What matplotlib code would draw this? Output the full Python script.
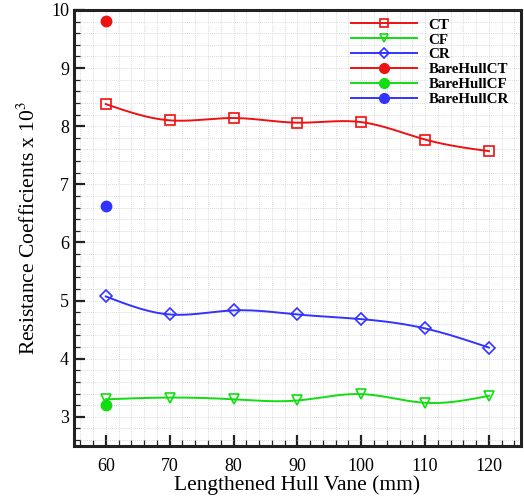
import numpy as np
import matplotlib
matplotlib.use("Agg")
import matplotlib.pyplot as plt
from matplotlib.ticker import MultipleLocator

plt.rcParams["font.family"] = ["Liberation Serif", "DejaVu Serif"]
plt.rcParams["mathtext.fontset"] = "stix"

vane_mm = [60, 70, 80, 90, 100, 110, 120]
ct = [8.38, 8.10, 8.14, 8.06, 8.07, 7.77, 7.57]
cf = [3.30, 3.33, 3.30, 3.28, 3.39, 3.24, 3.36]
cr = [5.07, 4.76, 4.83, 4.76, 4.68, 4.52, 4.19]
bare_x = [60]
bare_ct = [9.81]
bare_cf = [3.20]
bare_cr = [6.62]

RED = "#ee1111"
GREEN = "#11dd11"
BLUE = "#3333ff"


def smooth(x, y, n=200):
    # natural cubic spline through the points, only for drawing the curve
    x = np.asarray(x, float)
    y = np.asarray(y, float)
    k = len(x)
    h = np.diff(x)
    A = np.zeros((k, k))
    b = np.zeros(k)
    A[0, 0] = A[-1, -1] = 1.0
    for i in range(1, k - 1):
        A[i, i - 1] = h[i - 1]
        A[i, i] = 2 * (h[i - 1] + h[i])
        A[i, i + 1] = h[i]
        b[i] = 6 * ((y[i + 1] - y[i]) / h[i] - (y[i] - y[i - 1]) / h[i - 1])
    m = np.linalg.solve(A, b)
    xs = np.linspace(x[0], x[-1], n)
    idx = np.clip(np.searchsorted(x, xs) - 1, 0, k - 2)
    x0, x1 = x[idx], x[idx + 1]
    hh = x1 - x0
    t0, t1 = x1 - xs, xs - x0
    ys = (m[idx] * t0 ** 3 + m[idx + 1] * t1 ** 3) / (6 * hh) \
        + (y[idx] / hh - m[idx] * hh / 6) * t0 + (y[idx + 1] / hh - m[idx + 1] * hh / 6) * t1
    return xs, ys


fig = plt.figure(figsize=(5.24, 4.97), dpi=100)
ax = fig.add_axes([0.141, 0.103, 0.853, 0.877])

series = [
    ("CT", ct, RED, "s", 6.5),
    ("CF", cf, GREEN, "v", 6.5),
    ("CR", cr, BLUE, "D", 6),
]
for label, vals, color, marker, ms in series:
    xs, ys = smooth(vane_mm, vals)
    ax.plot(xs, ys, color=color, lw=1.4, zorder=3)
    ax.plot(vane_mm, vals, ls="none", marker=marker, mfc="none", mec=color,
            ms=ms, mew=1.2, zorder=4)
    ax.plot([], [], color=color, lw=1.4, marker=marker, mfc="none", mec=color,
            ms=ms - 1, mew=1.2, label=label)

for label, vals, color in [("BareHullCT", bare_ct, RED), ("BareHullCF", bare_cf, GREEN),
                           ("BareHullCR", bare_cr, BLUE)]:
    ax.plot(bare_x, vals, ls="none", marker="o", color=color, ms=7.5, zorder=5)
    ax.plot([], [], color=color, lw=1.4, marker="o", ms=7, label=label)

ax.set_xlim(55, 125)
ax.set_ylim(2.5, 10)
ax.xaxis.set_major_locator(MultipleLocator(10))
ax.xaxis.set_minor_locator(MultipleLocator(2))
ax.yaxis.set_major_locator(MultipleLocator(1))
ax.yaxis.set_minor_locator(MultipleLocator(0.2))
ax.grid(which="both", color="#c4c4c4", ls=(0, (1.2, 1.8)), lw=0.5, zorder=0)
ax.set_axisbelow(True)

ax.tick_params(which="major", direction="in", length=8, width=1.6, labelsize=13, color="#222222")
ax.tick_params(which="minor", direction="in", length=4, width=0.9, color="#222222")
ax.tick_params(axis="x", pad=9)
for s in ax.spines.values():
    s.set_linewidth(2.2)
    s.set_color("#222222")

ax.set_xlabel("Lengthened Hull Vane (mm)", fontsize=15.5, labelpad=0)
ax.set_ylabel(r"Resistance Coefficients x 10$^3$", fontsize=15.5, labelpad=8)

leg = ax.legend(loc="upper left", bbox_to_anchor=(0.59, 1.012), frameon=False,
                handlelength=4.4, handletextpad=0.75, labelspacing=0.09, borderpad=0.4,
                prop={"weight": "bold", "size": 10.8})

fig.savefig("out.png", dpi=100)
